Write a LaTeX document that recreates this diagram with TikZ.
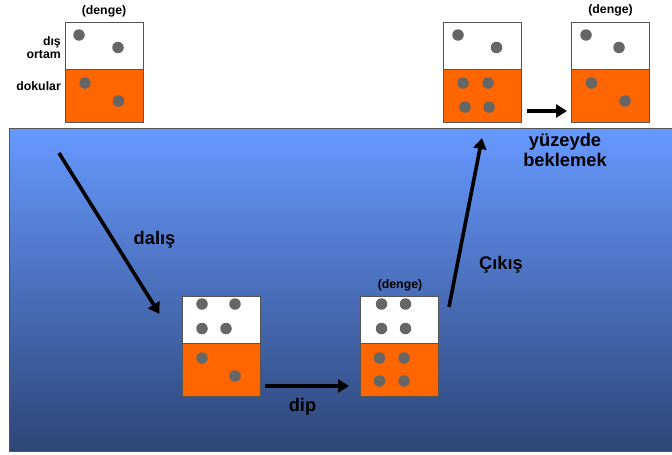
\documentclass[tikz,border=0pt]{standalone}
\usepackage{fontspec}
\setmainfont{Liberation Sans}
\usetikzlibrary{arrows.meta}
\definecolor{seatop}{HTML}{6699FF}
\definecolor{seabot}{HTML}{2E4577}
\definecolor{tissue}{HTML}{FF6600}
\definecolor{dotc}{HTML}{666666}
\definecolor{edgec}{HTML}{555555}
\begin{document}
\begin{tikzpicture}[x=1pt,y=-1pt,
  half/.style={draw=edgec,line width=0.8pt,minimum width=78pt,minimum height=47pt,inner sep=0pt,outer sep=0pt},
  upper/.style={half,fill=white},
  lower/.style={half,fill=tissue,minimum height=53pt},
  gas/.style={circle,fill=dotc,minimum size=11.5pt,inner sep=0pt},
  lbl/.style={font=\bfseries\fontsize{12.3}{13.5}\selectfont,inner sep=0pt},
  big/.style={font=\bfseries\fontsize{18.3}{20}\selectfont,inner sep=0pt},
  flow/.style={line width=3.6pt,-{Triangle[length=11pt,width=13pt]}}]
\useasboundingbox (0,0) rectangle (672,455);
\shade[top color=seatop,bottom color=seabot,draw=edgec,line width=0.6pt] (9,128) rectangle (673,451);
% box 1
\node[upper,anchor=north west] (b1u) at (65,22) {};
\node[lower,anchor=north west] (b1l) at (65,69) {};
\node[gas] (d11) at (79,35) {};
\node[gas] (d12) at (118,47.5) {};
\node[gas] (d13) at (85,83) {};
\node[gas] (d14) at (118.5,101) {};
\node[lbl] (e1) at (104,11) {(denge)};
\node[lbl,anchor=east,align=right] (dis) at (61,47.5) {dış\\ortam};
\node[lbl,anchor=east] (dok) at (61,86) {dokular};
% box 2
\node[upper,anchor=north west] (b2u) at (182,296) {};
\node[lower,anchor=north west] (b2l) at (182,343) {};
\node[gas] at (202,304) {};
\node[gas] at (235,304) {};
\node[gas] at (202,328.5) {};
\node[gas] at (226,328.5) {};
\node[gas] at (202,358) {};
\node[gas] at (235,376) {};
% box 3
\node[upper,anchor=north west] (b3u) at (360,296) {};
\node[lower,anchor=north west] (b3l) at (360,343) {};
\node[gas] at (381.5,304) {};
\node[gas] at (405.5,304) {};
\node[gas] at (381.5,328.5) {};
\node[gas] at (405.5,328.5) {};
\node[gas] at (379.5,358) {};
\node[gas] at (404,358) {};
\node[gas] at (379.5,381) {};
\node[gas] at (404,381) {};
\node[lbl] (e3) at (400,285) {(denge)};
% box 4
\node[upper,anchor=north west] (b4u) at (443.5,22) {};
\node[lower,anchor=north west] (b4l) at (443.5,69) {};
\node[gas] at (458,35) {};
\node[gas] at (496.5,47.5) {};
\node[gas] at (463,83) {};
\node[gas] at (488,83) {};
\node[gas] at (465,107) {};
\node[gas] at (489,107) {};
% box 5
\node[upper,anchor=north west] (b5u) at (571.5,22) {};
\node[lower,anchor=north west] (b5l) at (571.5,69) {};
\node[gas] at (586,35) {};
\node[gas] at (619,47.5) {};
\node[gas] at (591.5,83) {};
\node[gas] at (625,101) {};
\node[lbl] (e5) at (610.5,10) {(denge)};
% arrows
\coordinate (a1s) at (59,153);
\coordinate (a1e) at (159.5,314);
\draw[flow] (a1s) -- (a1e);
\coordinate (a2s) at (265,386);
\coordinate (a2e) at (349,386);
\draw[flow] (a2s) -- (a2e);
\coordinate (a3s) at (449,307);
\coordinate (a3e) at (482,138);
\draw[flow] (a3s) -- (a3e);
\coordinate (a4s) at (527,111);
\coordinate (a4e) at (567,111);
\draw[flow] (a4s) -- (a4e);
% labels
\node[big] (dal) at (154.5,240) {dalış};
\node[big] (dip) at (302.5,407) {dip};
\node[big] (cik) at (501,265) {Çıkış};
\node[big,align=center] (yuz) at (565,149.5) {yüzeyde\\[0pt]beklemek};
\end{tikzpicture}
\end{document}
